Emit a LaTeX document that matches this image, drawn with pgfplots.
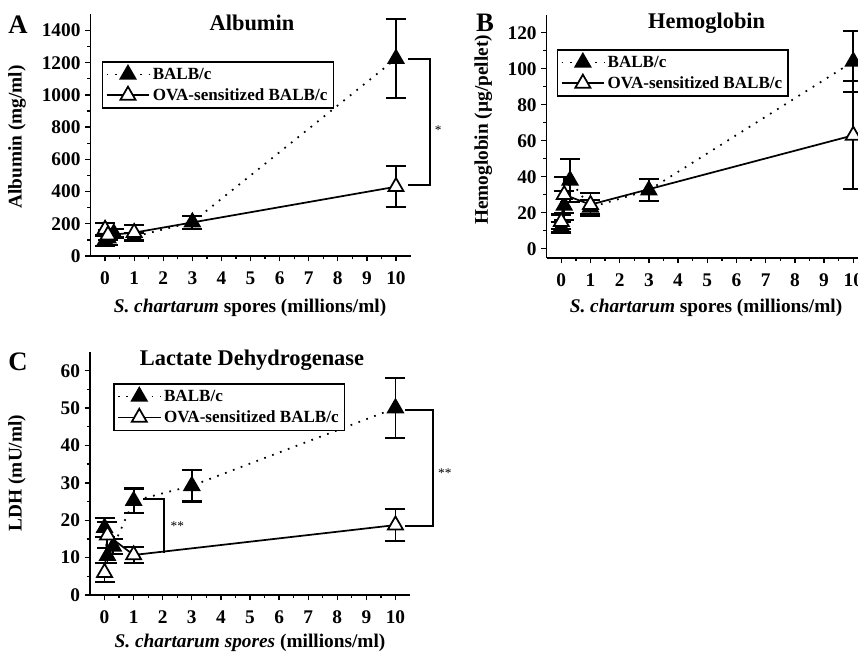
\documentclass[border=0pt]{standalone}
\usepackage{pgfplots}
\pgfplotsset{compat=1.18}
\usepackage{fontspec}
\setmainfont{Liberation Serif}
\newcommand\tickfont{\fontsize{14.5pt}{16pt}\selectfont\bfseries}
\newcommand\labfont{\fontsize{14.5pt}{16pt}\selectfont\bfseries}
\newcommand\titfont{\fontsize{16.8pt}{18pt}\selectfont\bfseries}
\newcommand\letfont{\fontsize{20pt}{22pt}\selectfont\bfseries}
\newcommand\legfont{\fontsize{12.8pt}{14pt}\selectfont\bfseries}
\newcommand\starfont{\fontsize{10pt}{11pt}\selectfont}
\pgfplotsset{
  myax/.style={
    scale only axis, anchor=south west,
    axis x line*=bottom, axis y line*=left,
    xmin=-0.5, xmax=10.5, xtick={0,...,10}, minor x tick num=1,
    minor y tick num=1,
    tick align=outside, major tick length=4pt, minor tick length=2.5pt,
    every tick/.style={line width=1pt, black},
    axis line style={line width=1.2pt},
    tick label style={font=\tickfont},
    xticklabel style={yshift=-4.5pt},
    /pgf/number format/assume math mode=true,
    /pgf/number format/set thousands separator={},
    clip=false,
    legend style={draw=black, line width=1.2pt, font=\legfont, fill=white,
      inner sep=2.5pt, row sep=1.5pt, anchor=north west, cells={anchor=west}},
    legend cell align=left,
    legend image code/.code={\draw[mark repeat=2,mark phase=2,##1] plot coordinates {(0cm,0cm) (0.56cm,0cm) (1.12cm,0cm)};},
  },
  balb/.style={black, line width=1.3pt, dash pattern=on 1.3pt off 5pt,
    mark=triangle*, mark size=6.5pt, mark options={solid, fill=black},
    error bars/.cd, y dir=both, y explicit,
    error bar style={solid, line width=1.3pt},
    error mark options={solid, rotate=90, line width=1.6pt, mark size=7.5pt}},
  ova/.style={black, line width=1.3pt, solid,
    mark=triangle*, mark size=6.5pt, mark options={solid, fill=white, draw=black},
    error bars/.cd, y dir=both, y explicit,
    error bar style={solid, line width=1.3pt},
    error mark options={solid, rotate=90, line width=1.6pt, mark size=7.5pt}},
}
\begin{document}
\begin{tikzpicture}
\path[use as bounding box] (0,0) rectangle (643.5pt,489pt);
% ---------- A ----------
\begin{axis}[myax, at={(67.9pt,297pt)}, width=240pt, height=181.2pt,
  ymin=0, ymax=1500, ytick={0,200,...,1400},
  legend style={at={(0.035,0.807)}}]
\addplot[balb] coordinates {(0,95) +- (0,35) (0.1,110) +- (0,40) (0.3,140) +- (0,25) (1,120) +- (0,25) (3,210) +- (0,40) (10,1225) +- (0,245)};
\addlegendentry{BALB/c}
\addplot[ova] coordinates {(0,165) +- (0,40) (0.1,130) +- (0,30) (1,145) +- (0,45) (10,430) +- (0,128)};
\addlegendentry{OVA-sensitized BALB/c}
\draw[line width=1.3pt] (axis cs:10.42,1225) -- (axis cs:11.17,1225) -- (axis cs:11.17,440) -- (axis cs:10.42,440);
\node[font=\starfont] at (axis cs:11.45,782) {*};
\end{axis}
% ---------- B ----------
\begin{axis}[myax, at={(410pt,295.7pt)}, width=240.9pt, height=182.25pt,
  ymin=-5, ymax=130, ytick={0,20,...,120},
  legend style={at={(0.031,0.859)}}]
\addplot[balb] coordinates {(0,12) +- (0,3) (0.1,24) +- (0,8) (0.3,38) +- (0,12) (1,23) +- (0,4) (3,32.5) +- (0,6) (10,104) +- (0,17)};
\addlegendentry{BALB/c}
\addplot[ova] coordinates {(0,15) +- (0,4) (0.1,30) +- (0,10) (1,24.5) +- (0,6.5) (10,63) +- (0,30)};
\addlegendentry{OVA-sensitized BALB/c}
\end{axis}
% ---------- C ----------
\begin{axis}[myax, at={(67.5pt,42.75pt)}, width=240pt, height=182.25pt,
  ymin=0, ymax=65, ytick={0,10,...,60},
  legend style={at={(0.072,0.872)}}]
\addplot[balb] coordinates {(0,18) +- (0,2.5) (0.1,10.5) +- (0,2) (0.3,13) +- (0,2) (1,25.2) +- (0,3.3) (3,29.2) +- (0,4.2) (10,50) +- (0,8)};
\addlegendentry{BALB/c}
\addplot[ova] coordinates {(0,6) +- (0,2.5) (0.1,16) +- (0,3.5) (1,10.7) +- (0,2.2) (10,18.7) +- (0,4.2)};
\addlegendentry{OVA-sensitized BALB/c}
\draw[line width=1.3pt] (axis cs:1.32,25.6) -- (axis cs:2.04,25.6) -- (axis cs:2.04,11.3);
\node[font=\starfont] at (axis cs:2.5,18.3) {**};
\draw[line width=1.3pt] (axis cs:10.34,49.5) -- (axis cs:11.28,49.5) -- (axis cs:11.28,18.5) -- (axis cs:10.34,18.5);
\node[font=\starfont] at (axis cs:11.7,32.7) {**};
\end{axis}
% ---------- text ----------
\node[font=\letfont] at (13.5pt,470.25pt) {A};
\node[font=\letfont] at (363.75pt,471.75pt) {B};
\node[font=\letfont] at (13.5pt,217.5pt) {C};
\node[font=\titfont] at (189pt,471.75pt) {Albumin};
\node[font=\titfont] at (530pt,471.75pt) {Hemoglobin};
\node[font=\titfont] at (189pt,219pt) {Lactate Dehydrogenase};
\node[font=\labfont, rotate=90] at (12.75pt,386.25pt) {Albumin (mg/ml)};
\node[font=\labfont, rotate=90] at (362.5pt,391.5pt) {Hemoglobin (µg/pellet)};
\node[font=\labfont, rotate=90] at (12.75pt,134.25pt) {LDH (mU/ml)};
\node[font=\labfont] at (187.5pt,258pt) {{\itshape S. chartarum} spores (millions/ml)};
\node[font=\labfont] at (529.5pt,258pt) {{\itshape S. chartarum} spores (millions/ml)};
\node[font=\labfont] at (187.5pt,6.75pt) {{\itshape S. chartarum spores} (millions/ml)};
\end{tikzpicture}
\end{document}
